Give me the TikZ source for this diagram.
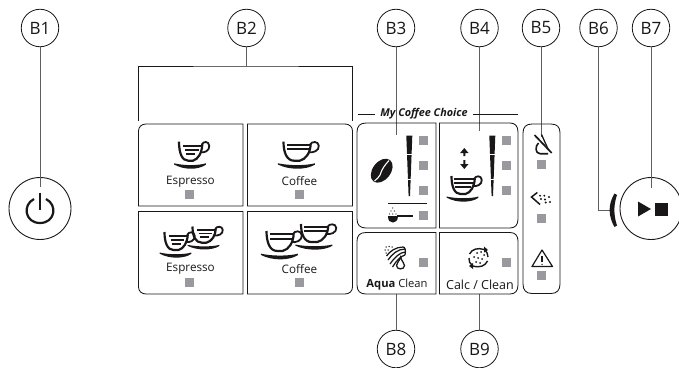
\documentclass[tikz,border=0pt]{standalone}
\usepackage{fontspec}
\setmainfont{Open Sans}
\usetikzlibrary{shapes.geometric}
\definecolor{ledgrey}{HTML}{9A9A9E}
\definecolor{ink}{HTML}{1A1718}
\definecolor{conn}{HTML}{5E5E5E}
\tikzset{
  callout/.style={draw=ink,circle,line width=.8pt,minimum size=37.5pt,inner sep=0pt,font=\fontsize{17}{17}\selectfont,text=ink,fill=white},
  roundkey/.style={draw=ink,circle,line width=.9pt,minimum size=62pt,inner sep=0pt},
  led/.style={fill=ledgrey,minimum size=9pt,inner sep=0pt},
  captxt/.style={font=\fontsize{11.7}{12}\selectfont,text=ink,inner sep=0pt},
  conline/.style={draw=conn,line width=1pt},
  panel/.style={draw=ink,line width=.85pt},
  icon/.style={draw=ink,line width=1.6pt,fill=none}
}
% cup: x y (top of left wall) width height ; #5 = list of inner lines
\newcommand{\cupicon}[5]{%
\begin{scope}[shift={(#1,#2)},x=#3 pt,y=-#4 pt]
  \draw[icon,line width=2.2pt] (0,0) .. controls (0,.55) and (.12,.95) .. (.38,.95) -- (.58,.95) .. controls (.8,.88) and (.96,.55) .. (.97,.12);
  \draw[icon,line width=1.8pt] (.95,.14) .. controls (1,-.02) and (1.24,-.05) .. (1.26,.2) .. controls (1.28,.45) and (1.05,.58) .. (.88,.52);
  \foreach \ff/\tt/\oo in {#5} \draw[icon,line width=1.7pt] (\ff,\oo) -- (\tt,\oo);
  \fill[ink] (-.2,1.08) .. controls (.2,1.2) and (.8,1.2) .. (1.12,1.08) .. controls (1.13,1.1) and (1.13,1.13) .. (1.12,1.15) .. controls (.8,1.42) and (.2,1.42) .. (-.2,1.14) .. controls (-.21,1.12) and (-.21,1.1) .. (-.2,1.08) -- cycle;
\end{scope}}
% tapered level bar
\newcommand{\levelbar}[1]{%
  \fill[ink] (#1-3,135.5) -- (#1+3,135.5) -- (#1+.7,196) -- (#1-.7,196) -- cycle;
  \draw[white,line width=.6pt] (#1-4,154.5) -- (#1+4,154.5) (#1-4,179) -- (#1+4,179);}
\begin{document}
\begin{tikzpicture}[x=1pt,y=-1pt]
\useasboundingbox (0,0) rectangle (679,367);
\clip (0,0) rectangle (679,367);
% callouts
\node[callout] (b1) at (40,28) {B1};
\node[callout] (b2) at (246.5,28) {B2};
\node[callout] (b3) at (396,28) {B3};
\node[callout] (b4) at (479.5,28) {B4};
\node[callout] (b5) at (541,28) {B5};
\node[callout] (b6) at (598.5,28) {B6};
\node[callout] (b7) at (651,28) {B7};
\node[callout] (b8) at (396,349) {B8};
\node[callout] (b9) at (479.5,349) {B9};
% round keys
\node[roundkey] (power) at (40,208.5) {};
\node[roundkey] (play) at (651,208.5) {};
% free ends
\coordinate (e1) at (40,187);
\coordinate (e2) at (246.5,66);
\coordinate (e2l) at (138.5,121);
\coordinate (e2r) at (352.5,121);
\coordinate (e3) at (396,135);
\coordinate (e4) at (479.5,131);
\coordinate (e5) at (541,137);
\coordinate (e6) at (610.5,210);
\coordinate (e7) at (651,188);
\coordinate (e8) at (396,294);
\coordinate (e9) at (479.5,294);
% connectors
\draw[conline] (b1) -- (e1);
\draw[conline] (b2) -- (e2);
\draw[ink,line width=.8pt] (e2l) |- (e2) -| (e2r);
\draw[conline] (b3) -- (e3);
\draw[conline] (b4) -- (e4);
\draw[conline] (b5) -- (e5);
\draw[conline] (b6.south) |- (e6);
\draw[conline] (b7) -- (e7);
\draw[conline] (b8) -- (e8);
\draw[conline] (b9) -- (e9);
% left block
\draw[panel] (243,206) -- (138.5,206) -- (138.5,131) .. controls (138.5,127) and (141.5,124) .. (146,124) -- (243,124) -- cycle;
\draw[panel] (247.5,206) -- (352.5,206) -- (352.5,131) .. controls (352.5,127) and (349.5,124) .. (345,124) -- (247.5,124) -- cycle;
\draw[panel] (243,211.5) -- (138.5,211.5) -- (138.5,287) .. controls (138.5,291) and (141.5,294) .. (146,294) -- (243,294) -- cycle;
\draw[panel] (247.5,211.5) -- (352.5,211.5) -- (352.5,287) .. controls (352.5,291) and (349.5,294) .. (345,294) -- (247.5,294) -- cycle;
\node[captxt] (t1) at (190.5,181.5) {Espresso};
\node[captxt] (t2) at (299.5,181.5) {Coffee};
\node[captxt] (t3) at (190.5,269) {Espresso};
\node[captxt] (t4) at (299.5,269) {Coffee};
\node[led] (l1) at (189.5,194.5) {};
\node[led] (l2) at (299.5,194.5) {};
\node[led] (l3) at (189.5,282.5) {};
\node[led] (l4) at (299.5,282.5) {};
\cupicon{179}{141.7}{24}{20}{.18/.95/.2,.25/.82/.42,.3/.68/.62}
\cupicon{283.5}{141.7}{28}{20}{.12/.97/.15,.12/.97/.38}
\cupicon{164.5}{232}{24}{19}{.18/.95/.2,.25/.82/.42,.3/.68/.62}
\cupicon{192.5}{226.5}{24}{17}{.18/.95/.2,.25/.82/.42,.3/.68/.62}
\cupicon{266.5}{231}{28}{21}{.12/.97/.15,.12/.97/.38}
\cupicon{301}{224}{28}{19}{.12/.97/.15,.12/.97/.38}
% my coffee choice
\node[inner sep=0pt,font=\fontsize{10.8}{11}\bfseries\itshape\selectfont,text=ink] (mcc) at (424,114) {My Coffee Choice};
\draw[ink,line width=.8pt] (358,114) -- (375,114) (473,114) -- (518,114);
% middle panels
\draw[panel] (436,228) -- (366,228) .. controls (360,228) and (357,225) .. (357,219) -- (357,132) .. controls (357,126) and (360,123) .. (366,123) -- (436,123) -- cycle;
\draw[panel] (439.5,228) -- (510,228) .. controls (515,228) and (518,225) .. (518,219) -- (518,132) .. controls (518,126) and (515,123) .. (510,123) -- (439.5,123) -- cycle;
\draw[panel] (436,232.5) -- (366,232.5) .. controls (360,232.5) and (357,235.5) .. (357,241) -- (357,285) .. controls (357,291) and (360,294) .. (366,294) -- (436,294) -- cycle;
\draw[panel] (439.5,232.5) -- (510,232.5) .. controls (515,232.5) and (518,235.5) .. (518,241) -- (518,285) .. controls (518,291) and (515,294) .. (510,294) -- (439.5,294) -- cycle;
\foreach \n/\y in {a/140.5,b/165.5,c/190.5,d/215.5,e/262.5} \node[led] (m\n) at (423.5,\y) {};
\foreach \n/\y in {a/140.5,b/165.5,c/190.5,e/262.5} \node[led] (r\n) at (506.5,\y) {};
\levelbar{409.3}
\levelbar{492.3}
% bean
\node[ellipse,fill=ink,minimum width=27pt,minimum height=18pt,inner sep=0pt,rotate=52] (bean) at (381.7,170.7) {};
\draw[white,line width=1.1pt] (389,160.5) .. controls (384,166) and (382,169) .. (380,175) .. controls (379,177) and (377,179) .. (374.5,181);
% scoop
\draw[ink,line width=1.3pt] (388,203.7) -- (427,203.7);
\fill[ink] (388,216) -- (398,216) .. controls (398,221) and (395,222.5) .. (393,222.5) .. controls (390,222.5) and (388,221) .. (388,216) -- cycle;
\draw[ink,line width=1.2pt] (397,216) -- (413,216);
\foreach \p in {(392.7,208),(391,211),(394.5,211),(389.5,214),(392.7,214),(396,214)} \fill[ink] \p circle (.6);
% size arrows
\fill[ink] (464.3,148) -- (468.5,153) -- (465.3,153) -- (465.3,156) -- (463.3,156) -- (463.3,153) -- (460.1,153) -- cycle;
\fill[ink] (464.3,169) -- (468.5,164) -- (465.3,164) -- (465.3,160) -- (463.3,160) -- (463.3,164) -- (460.1,164) -- cycle;
\cupicon{451.5}{176}{24}{19}{.1/.93/.14,.12/.9/.36,.16/.82/.58}
% aqua icon
\begin{scope}[ink,line width=1.25pt]
\draw (386.5,256) .. controls (390,251) and (396,247) .. (403,247);
\draw (388,260) .. controls (392,254) and (398,249) .. (405,249);
\draw (390,264) .. controls (394,258) and (400,252) .. (405.5,252);
\draw (392.5,267) .. controls (396,261) and (401,256) .. (405,255);
\draw (403,247) .. controls (405,247) and (406,250) .. (405,255);
\draw[line width=1.3pt] (400.5,257) .. controls (399,262) and (396.5,263) .. (396.5,265.5) .. controls (396.5,270) and (404.5,270) .. (404.5,265.5) .. controls (404.5,263) and (402,262) .. (400.5,257) -- cycle;
\foreach \p in {(386,247),(389,246.5),(392,247),(385,250),(388,250),(386,253)} \fill \p circle (.75);
\end{scope}
\node[captxt,font=\fontsize{11.2}{12}\selectfont] (aq) at (397,285) {\textbf{Aqua} Clean};
% calc icon
\draw[icon,line width=1.4pt] (469.5,254) .. controls (472,249) and (478,247.5) .. (484,249.5);
\draw[icon,line width=1.4pt] (487.5,261) .. controls (485,266) and (480,268) .. (473,266);
\draw[icon,line width=1.4pt] (469,258) .. controls (468.5,261) and (470,264) .. (472,265);
\draw[icon,line width=1.4pt] (488,257) .. controls (488,254) and (486.5,251.5) .. (485,250);
\fill[ink] (484,246.5) -- (484,252.5) -- (488,250) -- cycle;
\fill[ink] (473,263) -- (473,269) -- (469,266) -- cycle;
\foreach \p in {(477,253),(481,252),(484,255),(474,257),(478,258),(482,259),(476,262),(480,263)} \fill[ink] \p circle (1);
\node[captxt,font=\fontsize{12.5}{13}\selectfont] (cc) at (480,285) {Calc / Clean};
% right panel
\draw[panel] (532,124) -- (551,124) .. controls (557,124) and (560,127) .. (560,133) -- (560,284) .. controls (560,290) and (557,293.5) .. (551,293.5) -- (532,293.5) .. controls (526,293.5) and (523,290) .. (523,284) -- (523,133) .. controls (523,127) and (526,124) .. (532,124) -- cycle;
\node[led] (p1) at (541.5,164.5) {};
\node[led] (p2) at (541.5,218.5) {};
\node[led] (p3) at (541.5,275) {};
% no milk icon
\draw[icon,line width=1.7pt] (534.5,135) -- (551.7,153);
\draw[icon,line width=1.3pt] (541.5,134.5) -- (548,149);
\draw[icon,line width=1.6pt] (538.5,143) .. controls (535,146) and (535,153.5) .. (540,153.7) -- (548,153.7);
% grounds icon
\draw[icon,line width=1.5pt] (537.3,192.5) -- (531.5,197) -- (540,204.5);
\foreach \p in {(540,195.7),(544.3,195.7),(549,197),(541,199),(545,199.5),(550,202),(545.7,202.5)} \fill[ink] \p circle (1.05);
% warning
\draw[icon,line width=1.2pt,line join=round] (542,250) -- (552.5,266.5) -- (532,266.5) -- cycle;
\draw[ink,line width=1.3pt] (542,256) -- (542,262);
\fill[ink] (542,264.3) circle (.75);
% power icon
\draw[ink,line width=2.2pt] (40,192.5) -- (40,210);
\draw[ink,line width=2.2pt] (34,199) .. controls (22,205) and (25,223) .. (40,223) .. controls (55,223) and (58,205) .. (46,199);
% B6 crescent
\fill[ink] (614.5,193.5) .. controls (608,204) and (608,216) .. (614.5,227) -- (617,225.5) .. controls (613.5,215) and (613.5,205) .. (617,195) -- cycle;
% play stop
\fill[ink] (638,201.5) -- (651,209) -- (638,216.5) -- cycle;
\fill[ink] (655,202.5) rectangle (668,216);
\end{tikzpicture}
\end{document}
